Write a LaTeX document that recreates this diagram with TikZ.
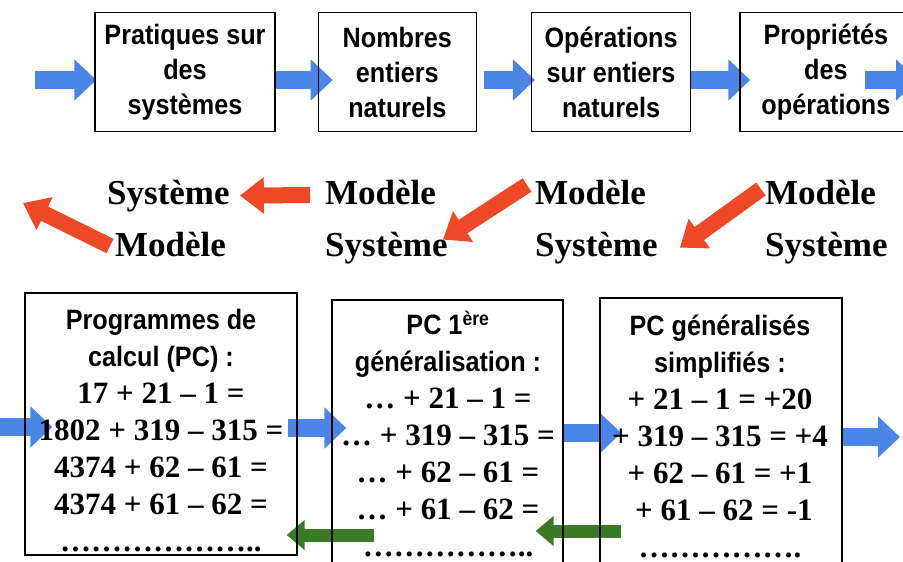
\documentclass[tikz,border=0pt]{standalone}
\usepackage{fontspec}
\setmainfont{Liberation Serif}
\newfontfamily\labelfont{Liberation Sans}[FakeStretch=0.9]
\usetikzlibrary{positioning,arrows.meta,backgrounds}

\definecolor{arrowblue}{RGB}{74,134,232}
\definecolor{arrowred}{RGB}{238,72,38}
\definecolor{arrowgreen}{RGB}{58,122,36}

\newcommand{\pclabel}[1]{{\labelfont\fontsize{28}{37}\selectfont #1}}

\begin{document}
\begin{tikzpicture}[
    x=1pt, y=-1pt,
    topbox/.style={rectangle, draw, line width=1.3pt, minimum height=119pt, inner sep=0pt, align=center, font=\labelfont\bfseries\fontsize{28}{35}\selectfont},
    pcbox/.style={rectangle, draw, line width=1.3pt, inner sep=0pt},
    pctext/.style={align=center, inner sep=0pt, font=\bfseries\fontsize{31}{37}\selectfont},
    word/.style={anchor=base west, inner sep=0pt, font=\bfseries\fontsize{35}{40}\selectfont},
    bluearr/.style={arrowblue, line width=18pt, -{Triangle[width=40pt,length=22pt]}},
    redarr/.style={arrowred, line width=16pt, -{Triangle[width=35pt,length=24pt]}},
    greenarr/.style={arrowgreen, line width=13pt, -{Triangle[width=29pt,length=18pt]}}
]
\useasboundingbox (0,0) rectangle (903,562);
\clip (0,0) rectangle (903,562);

% top row
\node[topbox, minimum width=180pt] (prat) at (185,72) {Pratiques sur\\des\\systèmes};
\node[topbox, minimum width=158pt, right=42pt of prat] (nomb) {Nombres\\entiers\\naturels};
\node[topbox, minimum width=159pt, right=54pt of nomb] (oper) {Opérations\\sur entiers\\naturels};
\node[topbox, minimum width=172pt, right=48pt of oper] (prop) {Propriétés\\des\\opérations};

% middle row
\node[word] (sys1) at (107,204) {Système};
\node[word] (mod1) at (115,256) {Modèle};
\node[word] (mod2) at (325,204) {Modèle};
\node[word] (sys2) at (325,256) {Système};
\node[word] (mod3) at (535,204) {Modèle};
\node[word] (sys3) at (535,256) {Système};
\node[word] (mod4) at (765,204) {Modèle};
\node[word] (sys4) at (765,256) {Système};

% bottom row
\node[pcbox, minimum width=272pt, minimum height=262pt] (pc) at (161,424) {};
\node[pctext] (pctxt) at (161,431) {\pclabel{Programmes de}\\\pclabel{calcul (PC) :}\\17 + 21 – 1 =\\1802 + 319 – 315 =\\4374 + 62 – 61 =\\4374 + 61 – 62 =\\………………..};

\node[pcbox, minimum width=231pt, minimum height=280pt] (gen) at (447.5,440) {};
\node[pctext] (gentxt) at (448,434) {\pclabel{PC 1\textsuperscript{ère}}\\\pclabel{généralisation :}\\… + 21 – 1 =\\… + 319 – 315 =\\… + 62 – 61 =\\… + 61 – 62 =\\……………..};

\node[pcbox, minimum width=242pt, minimum height=280pt] (simp) at (721,438) {};
\node[pctext] (simptxt) at (720,436) {\pclabel{PC généralisés}\\\pclabel{simplifiés :}\\+ 21 – 1 = +20\\+ 319 – 315 = +4\\+ 62 – 61 = +1\\\ + 61 – 62 = -1\\…………….};

\coordinate (in1) at (35,80);
\coordinate (out1) at (918,80);
\coordinate (outA) at (23,203);
\coordinate (in2) at (0,427);
\coordinate (out2) at (900,437);

\begin{scope}[on background layer]
\clip (0,0) rectangle (903,562);
% blue, top
\draw[bluearr] (in1) -- ([xshift=2pt,yshift=-8pt]prat.west);
\draw[bluearr] ([yshift=-8pt]prat.east) -- ([xshift=15pt,yshift=-8pt]nomb.west);
\draw[bluearr] ([xshift=7pt,yshift=-8pt]nomb.east) -- ([xshift=4pt,yshift=-8pt]oper.west);
\draw[bluearr] ([yshift=-8pt]oper.east) -- ([xshift=11pt,yshift=-8pt]prop.west);
\draw[bluearr] ([xshift=39pt,yshift=-8pt]prop.center) -- (out1);

% red
\draw[redarr] ([xshift=-5pt,yshift=-2pt]mod1.west) -- (outA);
\draw[redarr] ([xshift=-15pt,yshift=-3pt]mod2.west) -- ([xshift=10pt]sys1.east);
\draw[redarr] ([xshift=-8pt,yshift=7pt]mod3.west) -- ([xshift=-5pt,yshift=8pt]sys2.east);
\draw[redarr] ([xshift=-4pt,yshift=3pt]mod4.west) -- ([xshift=22pt]sys3.east);

% blue, bottom
\draw[bluearr] (in2) -- ([xshift=28pt,yshift=-3pt]pc.west);
\draw[bluearr] ([xshift=-10pt,yshift=-4pt]pc.east) -- ([xshift=15pt,yshift=12pt]gen.west);
\draw[bluearr] ([xshift=-1pt,yshift=7pt]gen.east) -- ([xshift=22pt,yshift=5pt]simp.west);
\draw[bluearr] ([xshift=-2pt,yshift=1pt]simp.east) -- (out2);

% green
\draw[greenarr] ([xshift=43pt,yshift=-95pt]gen.west) -- ([xshift=-11pt,yshift=-111pt]pc.east);
\draw[greenarr] ([xshift=22pt,yshift=-93pt]simp.west) -- ([xshift=-28pt,yshift=-91pt]gen.east);
\end{scope}

\end{tikzpicture}
\end{document}
